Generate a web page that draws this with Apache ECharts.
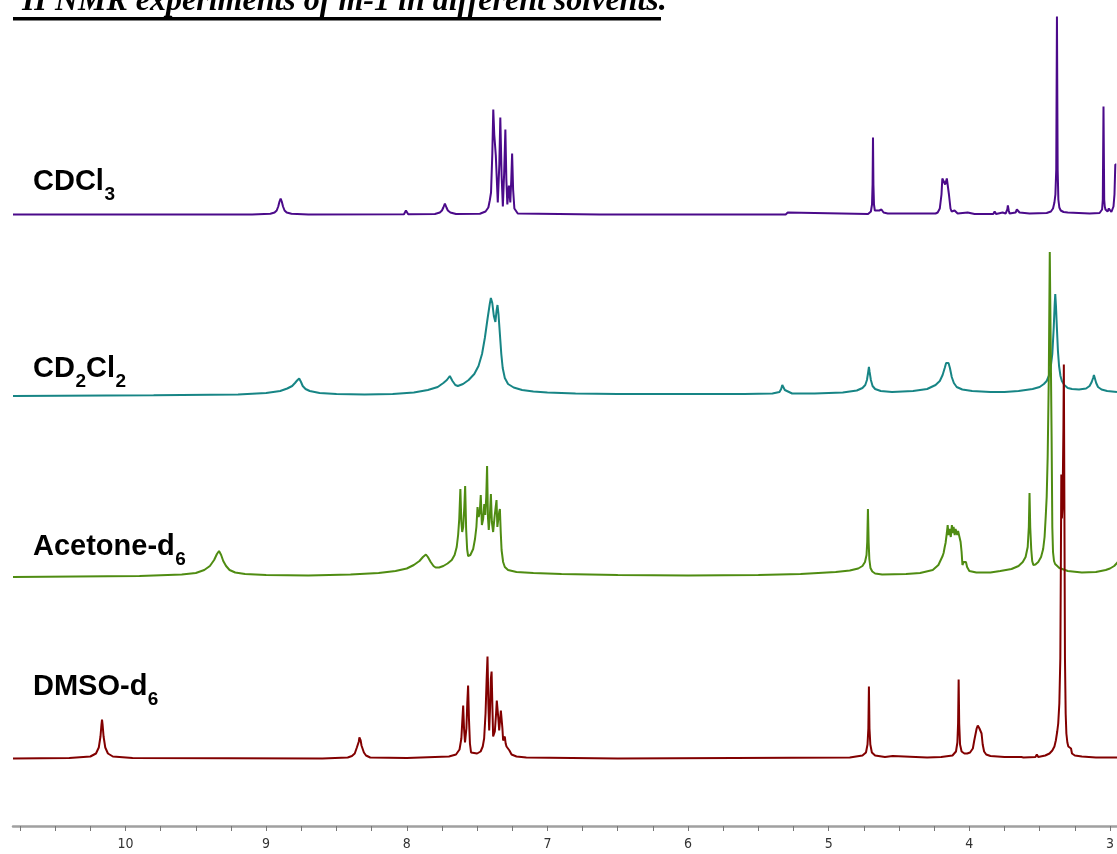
<!DOCTYPE html>
<html><head><meta charset="utf-8">
<script src="https://cdn.jsdelivr.net/npm/echarts@6/dist/echarts.min.js"></script>
<style>html,body{margin:0;padding:0;background:#fff}#c{width:1117px;height:854px}</style>
</head><body><div id="c"></div>
<script>
// ---- data: chemical shift (ppm) vs. relative intensity ----
const titleSup = '1';
const titleText = 'H NMR experiments of m-1 in different solvents.';
const tickLabels = [3, 4, 5, 6, 7, 8, 9, 10];
// label segments: [text, isSubscript]
const solventLabels = [
  [['CDCl', false], ['3', true]],
  [['CD', false], ['2', true], ['Cl', false], ['2', true]],
  [['Acetone-d', false], ['6', true]],
  [['DMSO-d', false], ['6', true]]
];

const cdcl3 = [
[10.80,0],[9.50,0],[9.10,0],[8.97,0.8],[8.94,2],[8.925,4],[8.914,8],[8.905,13],[8.897,16],[8.889,13],[8.880,8],
[8.869,4],[8.854,2],[8.82,0.8],[8.70,0],[8.02,0.3],[8.011,2],[8.006,4],[8.001,2],[7.99,0.3],
[7.80,0.5],[7.765,2],[7.75,4],[7.74,7],[7.729,11],[7.718,7],[7.708,4],[7.69,2],[7.65,0.5],
[7.48,0.8],[7.44,3],[7.42,7],[7.41,14],[7.401,22],[7.392,60],[7.385,105],[7.378,80],[7.367,59],[7.353,12],
[7.342,50],[7.335,97],[7.326,40],[7.317,8],[7.308,40],[7.299,85],[7.292,35],[7.285,10],[7.274,29],[7.264,12],
[7.257,35],[7.251,61],[7.244,25],[7.235,6],[7.211,1],[6.628,0],
[5.306,0],[5.291,2],[5.277,0],[4.72,0.5],[4.70,3],[4.692,10],[4.688,30],[4.685,77],[4.682,30],[4.678,10],
[4.672,4],[4.662,3],[4.640,4],[4.625,5],[4.61,2],[4.58,1],
[4.24,1],[4.225,2],[4.21,6],[4.198,20],[4.192,36],[4.185,36],[4.172,30],[4.160,36],[4.152,36],[4.145,20],
[4.134,6],[4.126,3],[4.105,4],[4.083,1],[4.012,2],[3.963,0.5],
[3.830,0.5],[3.820,3],[3.810,0.5],[3.799,0],[3.763,2],[3.742,1],[3.730,5],[3.726,9],[3.720,4],[3.714,1],
[3.671,2],[3.662,5],[3.657,6],[3.650,4],[3.643,2],[3.572,1],
[3.45,1.5],[3.42,3],[3.405,6],[3.395,12],[3.388,20],[3.382,45],[3.377,198],[3.372,45],[3.367,15],[3.36,7],
[3.35,4],[3.33,2.5],[3.30,2],[3.145,1],[3.074,1.5],[3.062,3],[3.056,5],[3.051,15],[3.046,108],[3.041,15],
[3.037,8],[3.032,5],[3.025,4],[3.017,3],[3.008,6],[3.003,8],[2.997,4],[2.99,2.5],[2.981,3],[2.975,8],
[2.968,20],[2.962,50],[2.955,50]
];

const cd2cl2 = [
[10.80,0],[9.80,0.8],[9.20,1.5],[9.00,3],[8.90,5],[8.85,7.5],[8.815,10],[8.795,13],[8.78,15.5],[8.765,17.5],
[8.752,14],[8.74,10],[8.72,7],[8.69,5],[8.62,3],[8.50,2],[8.30,1.5],[8.10,2],[7.95,3.5],[7.85,6],[7.78,9],
[7.74,13],[7.715,16],[7.694,20],[7.675,15],[7.655,11],[7.637,10],[7.60,12],[7.56,16],[7.52,22],[7.49,30],
[7.465,42],[7.445,58],[7.425,78],[7.41,92],[7.402,98],[7.392,93],[7.381,80],[7.370,74],[7.362,85],[7.355,91],
[7.348,82],[7.338,62],[7.328,42],[7.318,28],[7.303,18],[7.28,12],[7.24,8.5],[7.18,6],[7.10,4.5],[7.00,3.5],
[6.80,2.5],[6.50,2],[6.00,2],[5.60,2],[5.40,2.5],[5.35,4],[5.338,7],[5.330,11],[5.325,13],[5.320,10],[5.312,6],
[5.30,4],[5.26,2.5],[5.10,2.5],[4.90,3.5],[4.80,5.5],[4.76,8],[4.74,11],[4.728,16],[4.719,24],[4.714,29],
[4.709,24],[4.700,16],[4.688,10],[4.67,7],[4.63,5],[4.55,4],[4.40,5],[4.30,7],[4.24,11],[4.21,15],[4.19,21],
[4.175,28],[4.165,33],[4.156,35],[4.148,33],[4.138,28],[4.125,19],[4.11,13],[4.09,9],[4.05,6.5],[3.98,5],
[3.85,4],[3.75,4],[3.65,5],[3.55,7],[3.50,9],[3.47,12],[3.45,15],[3.435,20],[3.422,28],[3.41,42],[3.40,68],
[3.393,92],[3.389,102],[3.384,90],[3.378,70],[3.37,45],[3.362,30],[3.352,20],[3.342,15],[3.325,11],[3.30,8],
[3.27,7],[3.22,6.5],[3.17,7.5],[3.145,10],[3.13,14],[3.12,18],[3.114,21],[3.108,18],[3.098,13],[3.085,9],
[3.06,6.5],[3.02,5],[2.95,4]
];

const acetone = [
[10.80,0],[9.90,1],[9.60,2.5],[9.50,4],[9.44,7],[9.40,11],[9.37,17],[9.35,23],[9.335,26],[9.32,22],[9.305,16],
[9.285,11],[9.26,7],[9.22,4.5],[9.15,3],[9.00,2],[8.70,1.5],[8.40,2.5],[8.20,4],[8.08,6],[8.00,8.5],[7.95,12],
[7.91,16],[7.885,20],[7.864,22.5],[7.85,20],[7.83,15],[7.81,11],[7.795,9.5],[7.77,9.5],[7.74,11],[7.71,13.5],
[7.68,17],[7.66,22],[7.645,30],[7.635,42],[7.627,58],[7.619,88],[7.612,55],[7.606,45],[7.599,50],[7.591,70],
[7.585,91],[7.578,48],[7.571,28],[7.564,21],[7.548,22],[7.528,28],[7.515,38],[7.505,50],[7.497,70],[7.489,60],
[7.481,65],[7.474,82],[7.466,52],[7.457,58],[7.449,73],[7.442,62],[7.435,80],[7.429,111],[7.423,60],[7.417,47],
[7.409,62],[7.402,83],[7.395,55],[7.386,45],[7.376,60],[7.368,70],[7.362,77],[7.356,50],[7.350,48],[7.343,65],
[7.338,68],[7.332,45],[7.326,27],[7.315,15],[7.303,10],[7.28,7],[7.22,5],[7.10,4],[6.90,3],[6.50,2],[6.00,1.5],
[5.50,2],[5.20,3],[4.95,5],[4.85,6.5],[4.79,8.5],[4.76,11],[4.742,15],[4.731,22],[4.726,35],[4.721,68],
[4.716,35],[4.711,18],[4.703,9],[4.69,5.5],[4.67,3.5],[4.62,2.5],[4.45,3],[4.35,4],[4.26,7],[4.22,12],
[4.20,18],[4.19,21],[4.183,24],[4.175,30],[4.169,34],[4.160,44],[4.154,52],[4.148,42],[4.140,48],[4.132,40],
[4.124,52],[4.118,44],[4.112,50],[4.104,42],[4.098,48],[4.092,50],[4.086,42],[4.080,46],[4.070,45],[4.062,35],
[4.055,25],[4.049,12],[4.040,15],[4.032,13],[4.024,15],[4.016,10],[4.00,6],[3.95,4.5],[3.85,4.5],[3.78,6],
[3.70,8],[3.65,11],[3.62,15],[3.60,20],[3.585,30],[3.577,50],[3.572,84],[3.567,50],[3.56,28],[3.553,16],
[3.545,12],[3.53,12.5],[3.51,15],[3.49,20],[3.475,28],[3.465,40],[3.457,60],[3.45,80],[3.443,120],[3.435,200],
[3.428,325],[3.421,325],[3.415,140],[3.41,50],[3.405,25],[3.398,16],[3.39,13],[3.38,11],[3.36,9],[3.30,6],
[3.20,4.5],[3.10,5],[3.03,7],[3.00,8.5],[2.97,11],[2.95,14],[2.92,20]
];

const dmso = [
[10.80,0],[10.40,0.5],[10.25,2],[10.21,5],[10.19,11],[10.178,22],[10.171,34],[10.167,39],[10.163,34],[10.156,22],
[10.144,11],[10.125,5],[10.09,2],[9.95,0.5],[8.60,0],[8.42,1],[8.39,2.5],[8.37,5],[8.355,11],[8.348,13],
[8.341,17],[8.337,21],[8.333,23],[8.328,18],[8.322,13],[8.316,12],[8.305,6],[8.29,3],[8.26,1],[8.00,0.5],
[7.70,2],[7.65,4],[7.625,9],[7.612,20],[7.605,38],[7.599,53],[7.593,30],[7.586,16],[7.582,15],[7.576,30],
[7.570,55],[7.564,73],[7.558,40],[7.551,15],[7.543,6],[7.53,4],[7.50,5],[7.475,7],[7.46,12],[7.45,20],
[7.44,45],[7.432,80],[7.426,102],[7.42,55],[7.414,28],[7.408,50],[7.402,80],[7.397,87],[7.391,50],[7.386,22],
[7.380,22],[7.374,27],[7.365,45],[7.36,58],[7.355,60],[7.349,40],[7.343,28],[7.337,38],[7.331,48],[7.326,50],
[7.320,30],[7.315,18],[7.309,20],[7.303,22],[7.297,15],[7.291,12],[7.285,14],[7.279,14],[7.27,8],[7.255,4],
[7.22,2],[7.15,1],[6.50,0],[4.85,1],[4.76,3],[4.735,6],[4.724,14],[4.718,30],[4.714,72],[4.710,30],[4.704,14],
[4.693,6],[4.67,3],[4.60,1.5],[4.545,2.5],[4.535,1],[4.30,1],[4.20,1.5],[4.12,3],[4.095,7],[4.085,16],
[4.080,35],[4.076,79],[4.072,35],[4.066,14],[4.055,7],[4.035,5],[4.015,5],[3.995,6],[3.975,10],[3.965,18],
[3.955,25],[3.948,30],[3.94,33],[3.934,35],[3.928,30],[3.92,32],[3.913,25],[3.905,14],[3.895,7],[3.88,4],
[3.85,2.5],[3.75,1.5],[3.63,1.5],[3.623,3],[3.615,1],[3.53,1.5],[3.52,4],[3.51,1.5],[3.46,3],[3.43,5],
[3.41,8],[3.395,12],[3.385,18],[3.375,27],[3.368,35],[3.36,55],[3.353,100],[3.349,200],[3.346,284],[3.342,240],
[3.338,250],[3.335,280],[3.331,330],[3.328,394],[3.324,250],[3.32,100],[3.315,45],[3.31,25],[3.303,16],
[3.296,12],[3.289,12],[3.282,14],[3.277,10],[3.27,5],[3.25,3],[3.20,2],[3.10,1],[2.93,1]
];

// ---- layout / style ----
const spectra = [cdcl3, cd2cl2, acetone, dmso];
const colors = ['#4b0a8a', '#178585', '#4f8c12', '#820000'];
const baselinePx = [214.5, 396, 577, 758.5];
const labelMidPx = [182, 369, 546.5, 686.5];
const axisPx = 826;
const H = 854, W = 1117;
const mainFont = 'bold 29px "Liberation Sans"';
const subFont = 'bold 19px "Liberation Sans"';
const titleFont = 'italic bold 32px "Liberation Serif"';

const chart = echarts.init(document.getElementById('c'), null, {renderer: 'canvas'});

const yAxes = baselinePx.map(b => ({
  type: 'value', gridIndex: 0, show: false, min: b - axisPx, max: b, splitLine: {show: false}
}));
yAxes.push({type: 'value', gridIndex: 1, show: false, min: 0, max: 1});

const series = spectra.map((d, i) => ({
  type: 'line', data: d, xAxisIndex: 0, yAxisIndex: i, showSymbol: false, symbol: 'none',
  lineStyle: {color: colors[i], width: 2}, itemStyle: {color: colors[i]}, animation: false, z: 2 + i
}));

const graphics = [
  {type: 'text', x: 13, y: -9, z: 10, style: {text: titleSup, font: 'italic bold 20px "Liberation Serif"', fill: '#000', verticalAlign: 'middle'}},
  {type: 'text', x: 22, y: 2, z: 10, style: {text: titleText, font: titleFont, fill: '#000', verticalAlign: 'middle'}},
  {type: 'rect', z: 10, shape: {x: 13, y: 17, width: 648, height: 3.5}, style: {fill: '#000'}}
];
const mctx = document.createElement('canvas').getContext('2d');
solventLabels.forEach((segs, i) => {
  let x = 33;
  segs.forEach(([t, sub]) => {
    const font = sub ? subFont : mainFont;
    mctx.font = font;
    graphics.push({type: 'text', x: x, y: labelMidPx[i] + (sub ? 13 : 0), z: 10,
      style: {text: t, font: font, fill: '#000', verticalAlign: 'middle'}});
    x += mctx.measureText(t).width + (sub ? 0 : 0.5);
  });
});

chart.setOption({
  animation: false,
  backgroundColor: '#fff',
  grid: [
    {left: 13, right: 0, top: 0, bottom: H - axisPx},
    {left: 20, right: W - (125.5 + 7 * 140.7), top: 700, bottom: H - axisPx}
  ],
  xAxis: [
    {type: 'value', gridIndex: 0, inverse: true, min: 2.95, max: 10.8,
     axisLine: {show: true, onZero: false, lineStyle: {color: '#a0a0a0', width: 2.5}},
     axisTick: {show: false}, axisLabel: {show: false}, splitLine: {show: false}},
    {type: 'value', gridIndex: 1, inverse: true, min: 3, max: 10.75, interval: 0.25,
     axisLine: {show: false, onZero: false},
     axisTick: {show: true, length: 5, lineStyle: {color: '#777', width: 1}},
     axisLabel: {show: true, margin: 11, fontSize: 14, color: '#333', fontFamily: '"Liberation Sans Narrow", "DejaVu Sans Condensed", "Liberation Sans"',
       showMinLabel: true, showMaxLabel: true,
       formatter: v => tickLabels.includes(Math.round(v * 100) / 100) ? String(Math.round(v)) : ''},
     splitLine: {show: false}}
  ],
  yAxis: yAxes,
  series: series,
  graphic: graphics
});
</script></body></html>
